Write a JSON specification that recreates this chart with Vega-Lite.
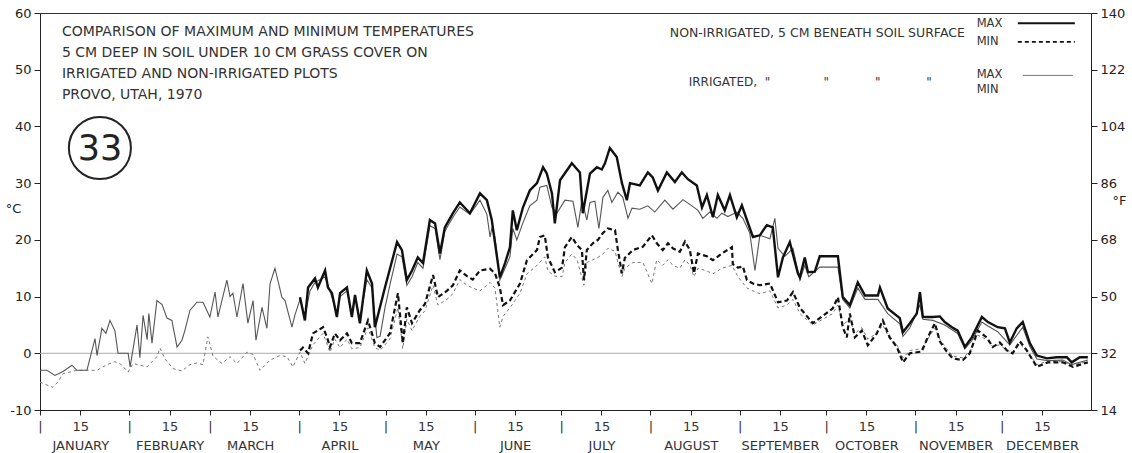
{
  "$schema": "https://vega.github.io/schema/vega-lite/v6.json",
  "autosize": {"type": "none"},
  "padding": {"left": 40, "top": 13, "right": 41, "bottom": 43},
  "width": 1051,
  "height": 397,
  "background": "white",
  "config": {
    "view": {"stroke": "#333", "strokeWidth": 1},
    "axis": {"labelFont": "DejaVu Sans", "titleFont": "DejaVu Sans", "labelColor": "#222", "titleColor": "#222", "domainColor": "#222", "tickColor": "#222", "grid": false},
    "text": {"font": "DejaVu Sans", "color": "#333"}
  },
  "datasets": {
    "temps": [
      {"day":1,"temp":-3,"series":"IRmax"},{"day":3.4,"temp":-3,"series":"IRmax"},{"day":6.2,"temp":-3.9,"series":"IRmax"},{"day":9,"temp":-3.2,"series":"IRmax"},{"day":12.1,"temp":-2.1,"series":"IRmax"},{"day":13.8,"temp":-3,"series":"IRmax"},{"day":17.3,"temp":-3,"series":"IRmax"},{"day":20.1,"temp":2.6,"series":"IRmax"},{"day":20.8,"temp":-0.4,"series":"IRmax"},{"day":22.5,"temp":4.4,"series":"IRmax"},{"day":23.9,"temp":3.5,"series":"IRmax"},{"day":25.3,"temp":5.8,"series":"IRmax"},{"day":27,"temp":4,"series":"IRmax"},{"day":28.1,"temp":0,"series":"IRmax"},{"day":31.6,"temp":0,"series":"IRmax"},{"day":32.3,"temp":-2.4,"series":"IRmax"},{"day":34.7,"temp":5,"series":"IRmax"},{"day":35.7,"temp":-0.8,"series":"IRmax"},{"day":36.8,"temp":6.7,"series":"IRmax"},{"day":38.2,"temp":2.4,"series":"IRmax"},{"day":38.8,"temp":7,"series":"IRmax"},{"day":39.9,"temp":1.8,"series":"IRmax"},{"day":41.6,"temp":9.3,"series":"IRmax"},{"day":43.4,"temp":8.6,"series":"IRmax"},{"day":45.1,"temp":6.2,"series":"IRmax"},{"day":46.8,"temp":5.8,"series":"IRmax"},{"day":48.6,"temp":1.1,"series":"IRmax"},{"day":50.3,"temp":2.3,"series":"IRmax"},{"day":51.3,"temp":4,"series":"IRmax"},{"day":53.1,"temp":7.6,"series":"IRmax"},{"day":55.5,"temp":9,"series":"IRmax"},{"day":57.6,"temp":9,"series":"IRmax"},{"day":60,"temp":6.4,"series":"IRmax"},{"day":61.8,"temp":10.8,"series":"IRmax"},{"day":62.8,"temp":6.4,"series":"IRmax"},{"day":65.9,"temp":12.9,"series":"IRmax"},{"day":67,"temp":10,"series":"IRmax"},{"day":68,"temp":10.6,"series":"IRmax"},{"day":69.4,"temp":6.4,"series":"IRmax"},{"day":71.5,"temp":12.3,"series":"IRmax"},{"day":73.2,"temp":5.3,"series":"IRmax"},{"day":75,"temp":9.3,"series":"IRmax"},{"day":76,"temp":2.3,"series":"IRmax"},{"day":78.1,"temp":8.1,"series":"IRmax"},{"day":79.8,"temp":4.4,"series":"IRmax"},{"day":80.9,"temp":12.3,"series":"IRmax"},{"day":82.6,"temp":15,"series":"IRmax"},{"day":85,"temp":9.9,"series":"IRmax"},{"day":86.1,"temp":9.3,"series":"IRmax"},{"day":88.5,"temp":4.6,"series":"IRmax"},{"day":89.5,"temp":6.7,"series":"IRmax"},{"day":91.3,"temp":9.5,"series":"IRmax"},{"day":93,"temp":6.5,"series":"IRmax"},{"day":94.75,"temp":11,"series":"IRmax"},{"day":96.5,"temp":12.5,"series":"IRmax"},{"day":100,"temp":13.5,"series":"IRmax"},{"day":101.7,"temp":11,"series":"IRmax"},{"day":104.1,"temp":7,"series":"IRmax"},{"day":105.2,"temp":10,"series":"IRmax"},{"day":107.6,"temp":11,"series":"IRmax"},{"day":109.3,"temp":6.8,"series":"IRmax"},{"day":110.4,"temp":10,"series":"IRmax"},{"day":112.1,"temp":6,"series":"IRmax"},{"day":114.5,"temp":13,"series":"IRmax"},{"day":116.3,"temp":11.5,"series":"IRmax"},{"day":118,"temp":2.8,"series":"IRmax"},{"day":119.1,"temp":3,"series":"IRmax"},{"day":120.8,"temp":8,"series":"IRmax"},{"day":122.5,"temp":12,"series":"IRmax"},{"day":125,"temp":17.5,"series":"IRmax"},{"day":126.7,"temp":17,"series":"IRmax"},{"day":128.4,"temp":12,"series":"IRmax"},{"day":130.2,"temp":13.5,"series":"IRmax"},{"day":132.2,"temp":16,"series":"IRmax"},{"day":134,"temp":15,"series":"IRmax"},{"day":136.4,"temp":22.5,"series":"IRmax"},{"day":138.2,"temp":22,"series":"IRmax"},{"day":139.9,"temp":16.5,"series":"IRmax"},{"day":141.6,"temp":21.5,"series":"IRmax"},{"day":144.4,"temp":24,"series":"IRmax"},{"day":146.8,"temp":25.8,"series":"IRmax"},{"day":150.3,"temp":24.5,"series":"IRmax"},{"day":153.8,"temp":27,"series":"IRmax"},{"day":156.2,"temp":24.5,"series":"IRmax"},{"day":157.3,"temp":20.5,"series":"IRmax"},{"day":157.9,"temp":22,"series":"IRmax"},{"day":159,"temp":20.5,"series":"IRmax"},{"day":160.7,"temp":12.9,"series":"IRmax"},{"day":162.5,"temp":15,"series":"IRmax"},{"day":164.2,"temp":17,"series":"IRmax"},{"day":165.2,"temp":22,"series":"IRmax"},{"day":166.6,"temp":20,"series":"IRmax"},{"day":168.7,"temp":23,"series":"IRmax"},{"day":171.1,"temp":26,"series":"IRmax"},{"day":173.6,"temp":27,"series":"IRmax"},{"day":174.6,"temp":29.3,"series":"IRmax"},{"day":177,"temp":29.6,"series":"IRmax"},{"day":178.8,"temp":25.7,"series":"IRmax"},{"day":180.5,"temp":24.7,"series":"IRmax"},{"day":183.3,"temp":27,"series":"IRmax"},{"day":186.1,"temp":26.8,"series":"IRmax"},{"day":187.8,"temp":22.2,"series":"IRmax"},{"day":189.2,"temp":27,"series":"IRmax"},{"day":190.9,"temp":23.5,"series":"IRmax"},{"day":192,"temp":26.6,"series":"IRmax"},{"day":193.7,"temp":26.8,"series":"IRmax"},{"day":195.1,"temp":22,"series":"IRmax"},{"day":196.5,"temp":27.5,"series":"IRmax"},{"day":198.2,"temp":28.7,"series":"IRmax"},{"day":199.6,"temp":26.6,"series":"IRmax"},{"day":201.7,"temp":28.4,"series":"IRmax"},{"day":203.4,"temp":27.5,"series":"IRmax"},{"day":205.2,"temp":23.8,"series":"IRmax"},{"day":206.6,"temp":25.6,"series":"IRmax"},{"day":209.3,"temp":25.4,"series":"IRmax"},{"day":212.1,"temp":26,"series":"IRmax"},{"day":214.5,"temp":24.9,"series":"IRmax"},{"day":218,"temp":27,"series":"IRmax"},{"day":220.8,"temp":25.4,"series":"IRmax"},{"day":224.3,"temp":27.1,"series":"IRmax"},{"day":227.4,"temp":26,"series":"IRmax"},{"day":229.5,"temp":25.2,"series":"IRmax"},{"day":231.2,"temp":23.8,"series":"IRmax"},{"day":233.6,"temp":24.9,"series":"IRmax"},{"day":236.1,"temp":23.8,"series":"IRmax"},{"day":237.8,"temp":24.7,"series":"IRmax"},{"day":239.9,"temp":24.1,"series":"IRmax"},{"day":243,"temp":24.9,"series":"IRmax"},{"day":245.1,"temp":23.8,"series":"IRmax"},{"day":247.5,"temp":21.2,"series":"IRmax"},{"day":249.3,"temp":14.6,"series":"IRmax"},{"day":251,"temp":20.8,"series":"IRmax"},{"day":254.5,"temp":20.2,"series":"IRmax"},{"day":256.2,"temp":23.8,"series":"IRmax"},{"day":257.3,"temp":18.5,"series":"IRmax"},{"day":259.7,"temp":17.1,"series":"IRmax"},{"day":262.5,"temp":18.5,"series":"IRmax"},{"day":264.9,"temp":12.9,"series":"IRmax"},{"day":266.6,"temp":15.5,"series":"IRmax"},{"day":268,"temp":13.5,"series":"IRmax"},{"day":271.8,"temp":15.2,"series":"IRmax"},{"day":278.1,"temp":15.2,"series":"IRmax"},{"day":279.8,"temp":9.5,"series":"IRmax"},{"day":282.25,"temp":8,"series":"IRmax"},{"day":285,"temp":11.5,"series":"IRmax"},{"day":287.5,"temp":9.5,"series":"IRmax"},{"day":292,"temp":9.5,"series":"IRmax"},{"day":295.4,"temp":7,"series":"IRmax"},{"day":299.6,"temp":5.2,"series":"IRmax"},{"day":300.7,"temp":3,"series":"IRmax"},{"day":303.1,"temp":4.5,"series":"IRmax"},{"day":306.6,"temp":8.5,"series":"IRmax"},{"day":307.6,"temp":6,"series":"IRmax"},{"day":311.1,"temp":5.8,"series":"IRmax"},{"day":315.2,"temp":5,"series":"IRmax"},{"day":319.7,"temp":3.5,"series":"IRmax"},{"day":322.2,"temp":0.8,"series":"IRmax"},{"day":324.6,"temp":2.2,"series":"IRmax"},{"day":328.1,"temp":5.5,"series":"IRmax"},{"day":330.2,"temp":4.8,"series":"IRmax"},{"day":333.6,"temp":3.8,"series":"IRmax"},{"day":337.8,"temp":1.5,"series":"IRmax"},{"day":342.3,"temp":4.6,"series":"IRmax"},{"day":344.75,"temp":1.2,"series":"IRmax"},{"day":347.2,"temp":-1,"series":"IRmax"},{"day":351,"temp":-1.3,"series":"IRmax"},{"day":356.2,"temp":-1.2,"series":"IRmax"},{"day":359.3,"temp":-2,"series":"IRmax"},{"day":364.9,"temp":-1.2,"series":"IRmax"},

      {"day":1,"temp":-5.1,"series":"IRmin"},{"day":5.5,"temp":-6,"series":"IRmin"},{"day":7.3,"temp":-5,"series":"IRmin"},{"day":9,"temp":-3.6,"series":"IRmin"},{"day":13.8,"temp":-3,"series":"IRmin"},{"day":20.8,"temp":-3,"series":"IRmin"},{"day":24.3,"temp":-2,"series":"IRmin"},{"day":27,"temp":-1.5,"series":"IRmin"},{"day":28.8,"temp":-1.8,"series":"IRmin"},{"day":31.6,"temp":-3.3,"series":"IRmin"},{"day":33.3,"temp":-1.8,"series":"IRmin"},{"day":38.2,"temp":-2.4,"series":"IRmin"},{"day":41.6,"temp":-0.6,"series":"IRmin"},{"day":42.7,"temp":0.9,"series":"IRmin"},{"day":44.4,"temp":-1,"series":"IRmin"},{"day":47.2,"temp":-2.7,"series":"IRmin"},{"day":50.3,"temp":-3.1,"series":"IRmin"},{"day":53.1,"temp":-2,"series":"IRmin"},{"day":55.5,"temp":-1.7,"series":"IRmin"},{"day":57.6,"temp":-2,"series":"IRmin"},{"day":59.3,"temp":2.9,"series":"IRmin"},{"day":61.1,"temp":-0.5,"series":"IRmin"},{"day":64.2,"temp":-1.8,"series":"IRmin"},{"day":67,"temp":-0.6,"series":"IRmin"},{"day":69.4,"temp":-1.8,"series":"IRmin"},{"day":72.9,"temp":0.2,"series":"IRmin"},{"day":75,"temp":-0.2,"series":"IRmin"},{"day":77.4,"temp":-3,"series":"IRmin"},{"day":80.9,"temp":-1.2,"series":"IRmin"},{"day":84.3,"temp":-0.4,"series":"IRmin"},{"day":86.8,"temp":-0.6,"series":"IRmin"},{"day":88.8,"temp":-2.4,"series":"IRmin"},{"day":91.3,"temp":0.2,"series":"IRmin"},{"day":93,"temp":-1.8,"series":"IRmin"},{"day":95.8,"temp":1.5,"series":"IRmin"},{"day":99.3,"temp":3.5,"series":"IRmin"},{"day":101.7,"temp":0.2,"series":"IRmin"},{"day":103.4,"temp":2.5,"series":"IRmin"},{"day":105.2,"temp":1,"series":"IRmin"},{"day":107.6,"temp":2.5,"series":"IRmin"},{"day":109.3,"temp":0.8,"series":"IRmin"},{"day":112.1,"temp":1,"series":"IRmin"},{"day":114.9,"temp":4.5,"series":"IRmin"},{"day":117.3,"temp":1,"series":"IRmin"},{"day":119.1,"temp":0.5,"series":"IRmin"},{"day":122.5,"temp":2.5,"series":"IRmin"},{"day":125.3,"temp":8,"series":"IRmin"},{"day":127,"temp":0.8,"series":"IRmin"},{"day":128.4,"temp":6,"series":"IRmin"},{"day":130.2,"temp":4,"series":"IRmin"},{"day":132.9,"temp":6.5,"series":"IRmin"},{"day":134.7,"temp":7.5,"series":"IRmin"},{"day":137.5,"temp":12,"series":"IRmin"},{"day":139.2,"temp":8.5,"series":"IRmin"},{"day":142.3,"temp":9.5,"series":"IRmin"},{"day":144.4,"temp":10.5,"series":"IRmin"},{"day":146.8,"temp":13,"series":"IRmin"},{"day":149.3,"temp":12,"series":"IRmin"},{"day":151.3,"temp":11.5,"series":"IRmin"},{"day":153.8,"temp":11,"series":"IRmin"},{"day":157.3,"temp":12.5,"series":"IRmin"},{"day":159,"temp":11.5,"series":"IRmin"},{"day":160.7,"temp":4.6,"series":"IRmin"},{"day":161.8,"temp":6.5,"series":"IRmin"},{"day":164.2,"temp":8,"series":"IRmin"},{"day":167.7,"temp":10.6,"series":"IRmin"},{"day":170.1,"temp":14,"series":"IRmin"},{"day":173.6,"temp":15.5,"series":"IRmin"},{"day":176.3,"temp":17,"series":"IRmin"},{"day":177.4,"temp":14.5,"series":"IRmin"},{"day":179.8,"temp":13.6,"series":"IRmin"},{"day":182.3,"temp":13.5,"series":"IRmin"},{"day":183.3,"temp":16,"series":"IRmin"},{"day":185.7,"temp":17.5,"series":"IRmin"},{"day":187.5,"temp":16.5,"series":"IRmin"},{"day":189.9,"temp":12,"series":"IRmin"},{"day":190.9,"temp":16,"series":"IRmin"},{"day":193,"temp":16.5,"series":"IRmin"},{"day":194.75,"temp":16.9,"series":"IRmin"},{"day":196.5,"temp":17.5,"series":"IRmin"},{"day":198.2,"temp":18.5,"series":"IRmin"},{"day":200.7,"temp":18,"series":"IRmin"},{"day":201.7,"temp":16,"series":"IRmin"},{"day":203.1,"temp":13.5,"series":"IRmin"},{"day":204.1,"temp":15,"series":"IRmin"},{"day":206.9,"temp":16,"series":"IRmin"},{"day":210.4,"temp":16,"series":"IRmin"},{"day":213.5,"temp":12.3,"series":"IRmin"},{"day":215.2,"temp":16.5,"series":"IRmin"},{"day":217.3,"temp":15.5,"series":"IRmin"},{"day":219.1,"temp":16.5,"series":"IRmin"},{"day":220.8,"temp":15.5,"series":"IRmin"},{"day":223.2,"temp":15,"series":"IRmin"},{"day":225,"temp":16.5,"series":"IRmin"},{"day":226.7,"temp":15.5,"series":"IRmin"},{"day":228.1,"temp":13.5,"series":"IRmin"},{"day":229.5,"temp":15,"series":"IRmin"},{"day":232.6,"temp":14.5,"series":"IRmin"},{"day":234.7,"temp":14,"series":"IRmin"},{"day":237.8,"temp":15,"series":"IRmin"},{"day":241.3,"temp":15.5,"series":"IRmin"},{"day":243.4,"temp":13.5,"series":"IRmin"},{"day":246.5,"temp":11.5,"series":"IRmin"},{"day":248.6,"temp":11,"series":"IRmin"},{"day":251,"temp":10.5,"series":"IRmin"},{"day":254.5,"temp":11,"series":"IRmin"},{"day":257.3,"temp":8,"series":"IRmin"},{"day":260.4,"temp":8.5,"series":"IRmin"},{"day":262.5,"temp":9.5,"series":"IRmin"},{"day":264.9,"temp":7,"series":"IRmin"},{"day":269.4,"temp":5,"series":"IRmin"},{"day":276.3,"temp":7,"series":"IRmin"},{"day":278.1,"temp":8.5,"series":"IRmin"},{"day":279.8,"temp":5,"series":"IRmin"},{"day":282.25,"temp":6,"series":"IRmin"},{"day":284,"temp":3.5,"series":"IRmin"},{"day":286.4,"temp":4.5,"series":"IRmin"},{"day":288.5,"temp":2.5,"series":"IRmin"},{"day":291.6,"temp":3.5,"series":"IRmin"},{"day":293.7,"temp":5,"series":"IRmin"},{"day":296.1,"temp":2.5,"series":"IRmin"},{"day":298.6,"temp":1.5,"series":"IRmin"},{"day":300.7,"temp":-0.8,"series":"IRmin"},{"day":303.1,"temp":0.5,"series":"IRmin"},{"day":307.2,"temp":0.8,"series":"IRmin"},{"day":309.3,"temp":2.5,"series":"IRmin"},{"day":311.8,"temp":4.5,"series":"IRmin"},{"day":313.5,"temp":2.5,"series":"IRmin"},{"day":315.9,"temp":0.8,"series":"IRmin"},{"day":318,"temp":-0.5,"series":"IRmin"},{"day":321.5,"temp":-0.8,"series":"IRmin"},{"day":323.9,"temp":0.3,"series":"IRmin"},{"day":326.7,"temp":3.2,"series":"IRmin"},{"day":329.8,"temp":2.4,"series":"IRmin"},{"day":331.9,"temp":1.2,"series":"IRmin"},{"day":334.3,"temp":1.5,"series":"IRmin"},{"day":336.8,"temp":0.5,"series":"IRmin"},{"day":338.8,"temp":0.2,"series":"IRmin"},{"day":341.3,"temp":1.6,"series":"IRmin"},{"day":343.7,"temp":0.4,"series":"IRmin"},{"day":347.2,"temp":-2,"series":"IRmin"},{"day":351,"temp":-1.4,"series":"IRmin"},{"day":356.2,"temp":-1.5,"series":"IRmin"},{"day":359.7,"temp":-2.1,"series":"IRmin"},{"day":364.9,"temp":-1.4,"series":"IRmin"},

      {"day":91.3,"temp":9.9,"series":"NImax"},{"day":93,"temp":5.8,"series":"NImax"},{"day":94.1,"temp":11.6,"series":"NImax"},{"day":96.5,"temp":13.2,"series":"NImax"},{"day":97.5,"temp":11.6,"series":"NImax"},{"day":100,"temp":14.6,"series":"NImax"},{"day":101,"temp":11.6,"series":"NImax"},{"day":102.4,"temp":10.6,"series":"NImax"},{"day":104.1,"temp":6.4,"series":"NImax"},{"day":105.2,"temp":10.6,"series":"NImax"},{"day":107.6,"temp":11.6,"series":"NImax"},{"day":109.3,"temp":6.4,"series":"NImax"},{"day":110.4,"temp":10.3,"series":"NImax"},{"day":112.1,"temp":5.3,"series":"NImax"},{"day":114.5,"temp":14.6,"series":"NImax"},{"day":116.3,"temp":12.3,"series":"NImax"},{"day":117.3,"temp":4.6,"series":"NImax"},{"day":120.8,"temp":11.6,"series":"NImax"},{"day":125,"temp":19.6,"series":"NImax"},{"day":126.7,"temp":18.2,"series":"NImax"},{"day":128.4,"temp":12.9,"series":"NImax"},{"day":130.2,"temp":14.6,"series":"NImax"},{"day":132.2,"temp":16.9,"series":"NImax"},{"day":134,"temp":15.9,"series":"NImax"},{"day":136.4,"temp":23.5,"series":"NImax"},{"day":138.2,"temp":22.9,"series":"NImax"},{"day":139.9,"temp":17.6,"series":"NImax"},{"day":141.6,"temp":22.2,"series":"NImax"},{"day":144.4,"temp":24.7,"series":"NImax"},{"day":146.8,"temp":26.6,"series":"NImax"},{"day":150.3,"temp":24.7,"series":"NImax"},{"day":153.8,"temp":28.2,"series":"NImax"},{"day":156.2,"temp":27,"series":"NImax"},{"day":157.9,"temp":23.5,"series":"NImax"},{"day":160.7,"temp":13.4,"series":"NImax"},{"day":162.5,"temp":15.9,"series":"NImax"},{"day":164.2,"temp":18.7,"series":"NImax"},{"day":165.2,"temp":25.2,"series":"NImax"},{"day":166.6,"temp":21.7,"series":"NImax"},{"day":168.7,"temp":25.7,"series":"NImax"},{"day":171.1,"temp":28.7,"series":"NImax"},{"day":173.6,"temp":30,"series":"NImax"},{"day":175.7,"temp":32.8,"series":"NImax"},{"day":177,"temp":31.7,"series":"NImax"},{"day":178.8,"temp":28.2,"series":"NImax"},{"day":179.8,"temp":22.9,"series":"NImax"},{"day":181.6,"temp":30.5,"series":"NImax"},{"day":185.7,"temp":33.5,"series":"NImax"},{"day":188.5,"temp":31.9,"series":"NImax"},{"day":189.5,"temp":24.7,"series":"NImax"},{"day":192,"temp":31.7,"series":"NImax"},{"day":194.4,"temp":32.8,"series":"NImax"},{"day":196.1,"temp":32.4,"series":"NImax"},{"day":197.2,"temp":33.5,"series":"NImax"},{"day":198.9,"temp":36.2,"series":"NImax"},{"day":201.3,"temp":34.6,"series":"NImax"},{"day":203.1,"temp":30,"series":"NImax"},{"day":204.8,"temp":27,"series":"NImax"},{"day":205.9,"temp":30,"series":"NImax"},{"day":209.3,"temp":29.6,"series":"NImax"},{"day":212.1,"temp":31.9,"series":"NImax"},{"day":213.8,"temp":31,"series":"NImax"},{"day":215.6,"temp":28.7,"series":"NImax"},{"day":218.7,"temp":31.9,"series":"NImax"},{"day":221.5,"temp":30.2,"series":"NImax"},{"day":223.9,"temp":31.9,"series":"NImax"},{"day":226,"temp":30.7,"series":"NImax"},{"day":229.1,"temp":29.6,"series":"NImax"},{"day":230.9,"temp":25.7,"series":"NImax"},{"day":232.6,"temp":27.9,"series":"NImax"},{"day":234.7,"temp":24,"series":"NImax"},{"day":236.4,"temp":27.9,"series":"NImax"},{"day":238.8,"temp":25.2,"series":"NImax"},{"day":240.6,"temp":27.9,"series":"NImax"},{"day":243,"temp":24,"series":"NImax"},{"day":244.75,"temp":26.1,"series":"NImax"},{"day":246.5,"temp":23.5,"series":"NImax"},{"day":248.6,"temp":20.5,"series":"NImax"},{"day":251,"temp":20.8,"series":"NImax"},{"day":253.4,"temp":22.6,"series":"NImax"},{"day":255.5,"temp":22.2,"series":"NImax"},{"day":257.3,"temp":13.4,"series":"NImax"},{"day":259,"temp":16.9,"series":"NImax"},{"day":261.4,"temp":19.6,"series":"NImax"},{"day":264.2,"temp":14.1,"series":"NImax"},{"day":264.9,"temp":13.4,"series":"NImax"},{"day":266.6,"temp":16.9,"series":"NImax"},{"day":267.7,"temp":14.3,"series":"NImax"},{"day":270.1,"temp":14.4,"series":"NImax"},{"day":271.8,"temp":17.1,"series":"NImax"},{"day":278.1,"temp":17.1,"series":"NImax"},{"day":279.8,"temp":9.9,"series":"NImax"},{"day":282.25,"temp":8.5,"series":"NImax"},{"day":285,"temp":12.5,"series":"NImax"},{"day":287.5,"temp":10.2,"series":"NImax"},{"day":292,"temp":10.2,"series":"NImax"},{"day":292.7,"temp":11.6,"series":"NImax"},{"day":295.4,"temp":7.9,"series":"NImax"},{"day":299.6,"temp":6.2,"series":"NImax"},{"day":300.7,"temp":3.7,"series":"NImax"},{"day":303.1,"temp":5.3,"series":"NImax"},{"day":305.5,"temp":7,"series":"NImax"},{"day":306.6,"temp":10.8,"series":"NImax"},{"day":307.6,"temp":6.4,"series":"NImax"},{"day":311.1,"temp":6.4,"series":"NImax"},{"day":313.5,"temp":6.5,"series":"NImax"},{"day":315.2,"temp":5.5,"series":"NImax"},{"day":317.7,"temp":4.6,"series":"NImax"},{"day":319.7,"temp":4,"series":"NImax"},{"day":322.2,"temp":1.1,"series":"NImax"},{"day":324.6,"temp":2.8,"series":"NImax"},{"day":328.1,"temp":6.4,"series":"NImax"},{"day":330.2,"temp":5.5,"series":"NImax"},{"day":333.6,"temp":4.6,"series":"NImax"},{"day":336.1,"temp":4.4,"series":"NImax"},{"day":337.8,"temp":1.9,"series":"NImax"},{"day":340.2,"temp":4.4,"series":"NImax"},{"day":342.3,"temp":5.5,"series":"NImax"},{"day":344.75,"temp":1.8,"series":"NImax"},{"day":347.2,"temp":-0.4,"series":"NImax"},{"day":350.7,"temp":-0.9,"series":"NImax"},{"day":354.1,"temp":-0.7,"series":"NImax"},{"day":357.6,"temp":-0.7,"series":"NImax"},{"day":359.3,"temp":-1.6,"series":"NImax"},{"day":362.1,"temp":-0.7,"series":"NImax"},{"day":364.9,"temp":-0.7,"series":"NImax"},

      {"day":91.3,"temp":0.5,"series":"NImin"},{"day":92.3,"temp":1,"series":"NImin"},{"day":94.1,"temp":0,"series":"NImin"},{"day":95.8,"temp":3.5,"series":"NImin"},{"day":99.3,"temp":4.6,"series":"NImin"},{"day":100.7,"temp":2.8,"series":"NImin"},{"day":101.7,"temp":1.1,"series":"NImin"},{"day":103.4,"temp":3.5,"series":"NImin"},{"day":105.2,"temp":2.3,"series":"NImin"},{"day":107.6,"temp":3.5,"series":"NImin"},{"day":109.3,"temp":1.8,"series":"NImin"},{"day":112.1,"temp":1.8,"series":"NImin"},{"day":114.9,"temp":5.8,"series":"NImin"},{"day":117.3,"temp":1.8,"series":"NImin"},{"day":119.1,"temp":1.1,"series":"NImin"},{"day":122.5,"temp":3.5,"series":"NImin"},{"day":125.3,"temp":10.6,"series":"NImin"},{"day":127,"temp":1.8,"series":"NImin"},{"day":128.4,"temp":8.1,"series":"NImin"},{"day":130.2,"temp":5.3,"series":"NImin"},{"day":132.9,"temp":7.6,"series":"NImin"},{"day":134.7,"temp":8.7,"series":"NImin"},{"day":137.5,"temp":13.8,"series":"NImin"},{"day":139.2,"temp":9.9,"series":"NImin"},{"day":142.3,"temp":11,"series":"NImin"},{"day":144.4,"temp":12,"series":"NImin"},{"day":146.8,"temp":14.6,"series":"NImin"},{"day":149.3,"temp":13.6,"series":"NImin"},{"day":151.3,"temp":13,"series":"NImin"},{"day":153.8,"temp":14.6,"series":"NImin"},{"day":157.3,"temp":14.9,"series":"NImin"},{"day":159,"temp":14.1,"series":"NImin"},{"day":160.7,"temp":11.6,"series":"NImin"},{"day":161.8,"temp":8.5,"series":"NImin"},{"day":164.2,"temp":9.3,"series":"NImin"},{"day":167.7,"temp":12.3,"series":"NImin"},{"day":170.1,"temp":16.4,"series":"NImin"},{"day":173.6,"temp":18.2,"series":"NImin"},{"day":174.6,"temp":20.5,"series":"NImin"},{"day":176.3,"temp":20.8,"series":"NImin"},{"day":177.4,"temp":16.9,"series":"NImin"},{"day":179.8,"temp":14.3,"series":"NImin"},{"day":182.3,"temp":15.1,"series":"NImin"},{"day":183.3,"temp":18.7,"series":"NImin"},{"day":185.7,"temp":20.5,"series":"NImin"},{"day":187.5,"temp":19.1,"series":"NImin"},{"day":189.2,"temp":18.2,"series":"NImin"},{"day":189.9,"temp":12.9,"series":"NImin"},{"day":190.9,"temp":18.2,"series":"NImin"},{"day":193,"temp":19.4,"series":"NImin"},{"day":194.75,"temp":20,"series":"NImin"},{"day":196.5,"temp":21.2,"series":"NImin"},{"day":198.2,"temp":22,"series":"NImin"},{"day":200.7,"temp":21.7,"series":"NImin"},{"day":201.7,"temp":18.2,"series":"NImin"},{"day":203.1,"temp":14.1,"series":"NImin"},{"day":204.1,"temp":16.8,"series":"NImin"},{"day":206.9,"temp":18.2,"series":"NImin"},{"day":210.4,"temp":18.8,"series":"NImin"},{"day":213.5,"temp":20.8,"series":"NImin"},{"day":215.2,"temp":19.4,"series":"NImin"},{"day":217.3,"temp":18.2,"series":"NImin"},{"day":219.1,"temp":19.4,"series":"NImin"},{"day":220.8,"temp":18.5,"series":"NImin"},{"day":223.2,"temp":17.9,"series":"NImin"},{"day":225,"temp":19.7,"series":"NImin"},{"day":226.7,"temp":18.2,"series":"NImin"},{"day":228.1,"temp":14.1,"series":"NImin"},{"day":229.5,"temp":17.6,"series":"NImin"},{"day":232.6,"temp":17.1,"series":"NImin"},{"day":234.7,"temp":16.4,"series":"NImin"},{"day":237.8,"temp":17.6,"series":"NImin"},{"day":241.3,"temp":18.7,"series":"NImin"},{"day":241.6,"temp":15.7,"series":"NImin"},{"day":243.4,"temp":15.1,"series":"NImin"},{"day":245.1,"temp":15.3,"series":"NImin"},{"day":246.5,"temp":12.9,"series":"NImin"},{"day":248.6,"temp":12.3,"series":"NImin"},{"day":251,"temp":12,"series":"NImin"},{"day":254.5,"temp":12.3,"series":"NImin"},{"day":257.3,"temp":9,"series":"NImin"},{"day":260.4,"temp":9.3,"series":"NImin"},{"day":262.5,"temp":10.8,"series":"NImin"},{"day":264.9,"temp":8,"series":"NImin"},{"day":269.4,"temp":5.3,"series":"NImin"},{"day":276.3,"temp":7.9,"series":"NImin"},{"day":278.1,"temp":9.9,"series":"NImin"},{"day":279.8,"temp":4.6,"series":"NImin"},{"day":281.2,"temp":2.8,"series":"NImin"},{"day":282.25,"temp":7,"series":"NImin"},{"day":284,"temp":2.8,"series":"NImin"},{"day":286.4,"temp":4,"series":"NImin"},{"day":288.5,"temp":1.4,"series":"NImin"},{"day":291.6,"temp":3.5,"series":"NImin"},{"day":293.7,"temp":5.8,"series":"NImin"},{"day":296.1,"temp":2.8,"series":"NImin"},{"day":298.6,"temp":1.1,"series":"NImin"},{"day":300.7,"temp":-1.6,"series":"NImin"},{"day":303.1,"temp":0,"series":"NImin"},{"day":307.2,"temp":0.3,"series":"NImin"},{"day":309.3,"temp":2.8,"series":"NImin"},{"day":311.8,"temp":5.3,"series":"NImin"},{"day":313.5,"temp":2.1,"series":"NImin"},{"day":315.9,"temp":0.3,"series":"NImin"},{"day":318,"temp":-0.9,"series":"NImin"},{"day":321.5,"temp":-1.2,"series":"NImin"},{"day":323.9,"temp":0,"series":"NImin"},{"day":326.7,"temp":4,"series":"NImin"},{"day":329.8,"temp":2.8,"series":"NImin"},{"day":331.9,"temp":1.1,"series":"NImin"},{"day":334.3,"temp":1.9,"series":"NImin"},{"day":336.8,"temp":0.5,"series":"NImin"},{"day":338.8,"temp":0,"series":"NImin"},{"day":341.3,"temp":2.1,"series":"NImin"},{"day":343.7,"temp":0.5,"series":"NImin"},{"day":347.2,"temp":-2.4,"series":"NImin"},{"day":351,"temp":-1.6,"series":"NImin"},{"day":356.2,"temp":-1.6,"series":"NImin"},{"day":359.7,"temp":-2.4,"series":"NImin"},{"day":364.9,"temp":-1.6,"series":"NImin"}
    ]
  },
  "resolve": {"scale": {"y": "independent"}},
  "layer": [
    {
      "data": {"values": [{}]},
      "mark": {"type": "rule", "color": "#aaaaaa", "strokeWidth": 1},
      "encoding": {
        "y": {"datum": 0, "type": "quantitative", "scale": {"domain": [-10, 60], "nice": false, "zero": false},
          "axis": {"orient": "right", "values": [-10, 0, 10, 20, 30, 40, 50, 60], "labelExpr": "format(datum.value * 1.8 + 32, 'd')", "tickSize": 6, "labelPadding": 3, "labelFontSize": 13, "title": "°F", "titleAngle": 0, "titleX": 28, "titleY": 187, "titleFontSize": 13, "titleFontWeight": "normal", "titleAlign": "center", "titleBaseline": "middle"}}
      }
    },
    {
      "layer": [
        {
          "data": {"name": "temps"},
          "transform": [{"filter": "datum.series === 'IRmin'"}],
          "mark": {"type": "line", "color": "#777777", "strokeWidth": 1, "strokeDash": [3, 3]},
          "encoding": {
            "x": {"field": "day", "type": "quantitative", "scale": {"domain": [1, 366], "nice": false, "zero": false},
              "axis": {"values": [1, 15, 32, 46, 60, 74, 91, 105, 121, 135, 152, 166, 182, 196, 213, 227, 244, 258, 274, 288, 305, 319, 335, 349],
                "labelExpr": "indexof([15,46,74,105,135,166,196,227,258,288,319,349], datum.value) >= 0 ? ['15', ['JANUARY','FEBRUARY','MARCH','APRIL','MAY','JUNE','JULY','AUGUST','SEPTEMBER','OCTOBER','NOVEMBER','DECEMBER'][indexof([15,46,74,105,135,166,196,227,258,288,319,349], datum.value)]] : '|'",
                "tickSize": 5, "labelPadding": 5, "labelFontSize": 13, "labelLineHeight": 19, "labelColor": "#333", "title": null, "labelOverlap": false, "labelFlush": false}},
            "y": {"field": "temp", "type": "quantitative", "scale": {"domain": [-10, 60], "nice": false, "zero": false},
              "axis": {"orient": "left", "values": [-10, 0, 10, 20, 30, 40, 50, 60], "labelExpr": "replace(datum.label, '\u2212', '-')", "tickSize": 6, "labelPadding": 3, "labelFontSize": 13, "title": "°C", "titleAngle": 0, "titleX": -27, "titleY": 195, "titleFontSize": 13, "titleFontWeight": "normal", "titleAlign": "center", "titleBaseline": "middle"}}
          }
        },
        {
          "data": {"name": "temps"},
          "transform": [{"filter": "datum.series === 'IRmax'"}],
          "mark": {"type": "line", "color": "#555555", "strokeWidth": 1.1},
          "encoding": {"x": {"field": "day", "type": "quantitative"}, "y": {"field": "temp", "type": "quantitative"}}
        },
        {
          "data": {"name": "temps"},
          "transform": [{"filter": "datum.series === 'NImin'"}],
          "mark": {"type": "line", "color": "#111111", "strokeWidth": 2.2, "strokeDash": [5, 3]},
          "encoding": {"x": {"field": "day", "type": "quantitative"}, "y": {"field": "temp", "type": "quantitative"}}
        },
        {
          "data": {"name": "temps"},
          "transform": [{"filter": "datum.series === 'NImax'"}],
          "mark": {"type": "line", "color": "#111111", "strokeWidth": 2.4},
          "encoding": {"x": {"field": "day", "type": "quantitative"}, "y": {"field": "temp", "type": "quantitative"}}
        },
        {
          "data": {"values": [{}]},
          "mark": {"type": "text", "text": ["COMPARISON OF MAXIMUM AND MINIMUM TEMPERATURES", "5 CM DEEP IN SOIL UNDER 10 CM GRASS COVER ON", "IRRIGATED AND NON-IRRIGATED PLOTS", "PROVO, UTAH, 1970"], "align": "left", "baseline": "top", "fontSize": 14, "lineHeight": 21},
          "encoding": {"x": {"datum": 8.6}, "y": {"datum": 57.8}}
        },
        {
          "data": {"values": [{}]},
          "mark": {"type": "point", "shape": "circle", "size": 3850, "filled": false, "stroke": "#222222", "strokeWidth": 2, "opacity": 1},
          "encoding": {"x": {"datum": 21.8}, "y": {"datum": 36.2}}
        },
        {
          "data": {"values": [{}]},
          "mark": {"type": "text", "text": "33", "fontSize": 35, "align": "center", "baseline": "middle", "dy": 1, "color": "#222222"},
          "encoding": {"x": {"datum": 21.8}, "y": {"datum": 36.2}}
        },
        {
          "data": {"values": [{}]},
          "mark": {"type": "text", "text": "NON-IRRIGATED, 5 CM BENEATH SOIL SURFACE", "align": "right", "baseline": "middle", "fontSize": 12.5},
          "encoding": {"x": {"datum": 322.2}, "y": {"datum": 56.4}}
        },
        {
          "data": {"values": [{}]},
          "mark": {"type": "text", "text": "MAX", "align": "left", "baseline": "middle", "fontSize": 11.5},
          "encoding": {"x": {"datum": 326.3}, "y": {"datum": 58.0}}
        },
        {
          "data": {"values": [{}]},
          "mark": {"type": "text", "text": "MIN", "align": "left", "baseline": "middle", "fontSize": 11.5},
          "encoding": {"x": {"datum": 326.3}, "y": {"datum": 54.9}}
        },
        {
          "data": {"values": [{}]},
          "mark": {"type": "text", "text": "IRRIGATED,\u00a0\u00a0\"\u00a0\u00a0\u00a0\u00a0\u00a0\u00a0\u00a0\u00a0\u00a0\u00a0\u00a0\u00a0\u00a0\u00a0\"\u00a0\u00a0\u00a0\u00a0\u00a0\u00a0\u00a0\u00a0\u00a0\u00a0\u00a0\u00a0\"\u00a0\u00a0\u00a0\u00a0\u00a0\u00a0\u00a0\u00a0\u00a0\u00a0\u00a0\u00a0\"", "align": "left", "baseline": "middle", "fontSize": 12},
          "encoding": {"x": {"datum": 226.3}, "y": {"datum": 47.8}}
        },
        {
          "data": {"values": [{}]},
          "mark": {"type": "text", "text": "MAX", "align": "left", "baseline": "middle", "fontSize": 11.5},
          "encoding": {"x": {"datum": 326.3}, "y": {"datum": 49.0}}
        },
        {
          "data": {"values": [{}]},
          "mark": {"type": "text", "text": "MIN", "align": "left", "baseline": "middle", "fontSize": 11.5},
          "encoding": {"x": {"datum": 326.3}, "y": {"datum": 46.5}}
        },
        {
          "data": {"values": [{}]},
          "mark": {"type": "rule", "color": "#111111", "strokeWidth": 2},
          "encoding": {"x": {"datum": 340.6}, "x2": {"datum": 360.4}, "y": {"datum": 58.2}}
        },
        {
          "data": {"values": [{}]},
          "mark": {"type": "rule", "color": "#111111", "strokeWidth": 1.6, "strokeDash": [4, 3]},
          "encoding": {"x": {"datum": 340.6}, "x2": {"datum": 360.4}, "y": {"datum": 54.9}}
        },
        {
          "data": {"values": [{}]},
          "mark": {"type": "rule", "color": "#777777", "strokeWidth": 1},
          "encoding": {"x": {"datum": 342.3}, "x2": {"datum": 359.7}, "y": {"datum": 49.0}}
        }
      ]
    }
  ]
}
